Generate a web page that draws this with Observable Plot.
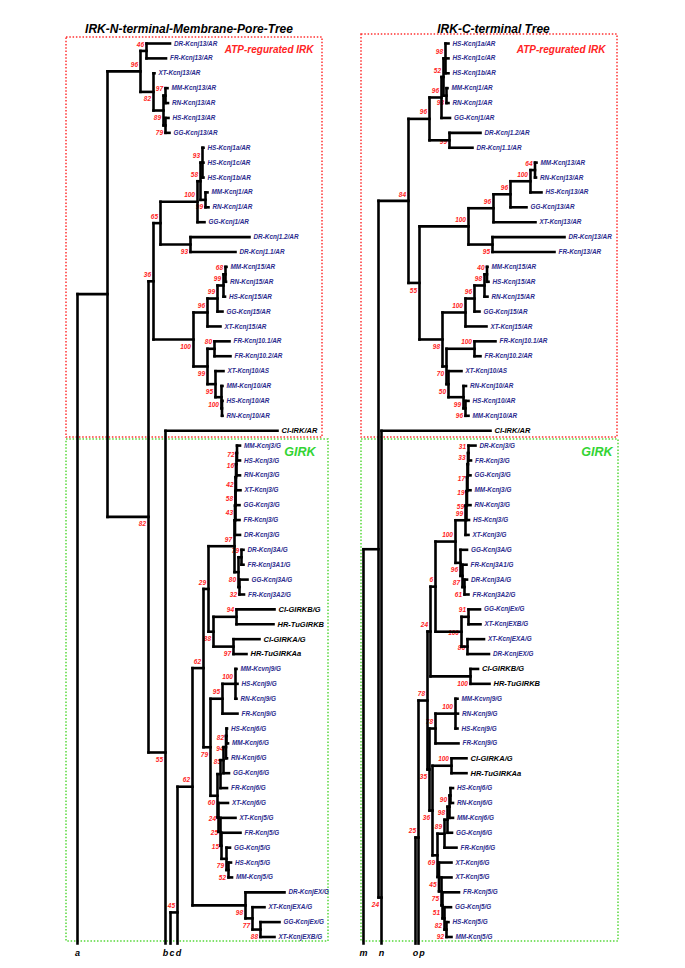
<!DOCTYPE html>
<html><head><meta charset="utf-8">
<script src="https://cdn.jsdelivr.net/npm/d3@7"></script>
<script src="https://cdn.jsdelivr.net/npm/@observablehq/plot@0.6"></script>
<style>
body{margin:0;background:#fff;}
#wrap{display:flex;width:685px;height:968px;}
#wrap svg{display:block;flex:none;}
</style></head><body><div id="wrap"></div>
<script>
// ---------- DATA ----------
// rows: [node id / leaf label, parent id, depth (branch distance from root), bootstrap, bootstrap side a=above b=below m=on branch]
const leftNodes = [
["R","",0],["N107","R",30],
["NK13","N107",63,"96","a"],["N46","NK13",69,"46","a"],
["DR-Kcnj13/AR","N46",92.5],["FR-Kcnj13/AR","N46",88.5],
["N82a","NK13",76,"82","b"],["XT-Kcnj13/AR","N82a",77],
["N89","N82a",86,"89","b"],["N97m","N89",88,"97","a"],
["MM-Kcnj13/AR","N97m",90],["RN-Kcnj13/AR","N97m",90.5],
["N79m","N89",88,"79","b"],["HS-Kcnj13/AR","N79m",91],["GG-Kcnj13/AR","N79m",92],
["N148","N107",71,"82","b"],["N36","N148",76,"36","a"],["N65","N36",83,"65","a"],
["N100k1","N65",120,"100","a"],["N58","N100k1",123,"58","a"],["N93h","N58",125,"93","a"],
["HS-Kcnj1a/AR","N93h",126],["HS-Kcnj1c/AR","N93h",126],["HS-Kcnj1b/AR","N93h",126],
["N99mr","N58",128,"99","b"],["MM-Kcnj1/AR","N99mr",130],["RN-Kcnj1/AR","N99mr",131],
["GG-Kcnj1/AR","N100k1",127],
["N93d","N65",113,"93","b"],["DR-Kcnj1.2/AR","N93d",172],["DR-Kcnj1.1/AR","N93d",158],
["N100b","N36",116,"100","b"],["N96","N100b",130,"96","a"],["N99a","N96",140,"99","a"],
["N99b","N99a",146,"99","a"],["N68","N99b",148,"68","a"],
["MM-Kcnj15/AR","N68",149],["RN-Kcnj15/AR","N68",148.5],["HS-Kcnj15/AR","N99b",147.5],
["GG-Kcnj15/AR","N99a",145],["XT-Kcnj15/AR","N96",143],
["N99c","N100b",130,"99","b"],["N80","N99c",137,"80","a"],
["FR-Kcnj10.1/AR","N80",152],["FR-Kcnj10.2/AR","N80",153],
["N95","N99c",138,"95","b"],["XT-Kcnj10/AS","N95",146],
["N100c","N95",144,"100","b"],["MM-Kcnj10/AR","N100c",145],["Nhr10","N100c",144.5],
["HS-Kcnj10/AR","Nhr10",145],["RN-Kcnj10/AR","Nhr10",145],
["Nb","N148",88,"55","b"],["CI-IRK/AR","Nb",200],
["Nc","",93],["Nd","Nc",100,"45","a"],["N62","Nd",115,"62","a"],
["N62b","N62",126,"62","a"],["N29","N62b",131,"29","a"],["N97k3","N29",157,"97","a"],
["Nk3a","N97k3",157.5],["Nk3b","Nk3a",158,"43","b"],["Nk3c","Nk3b",158,"58","b"],
["Nk3d","Nk3c",158.5,"42","b"],["Nk3e","Nk3d",159,"16","m"],["Nk3f","Nk3e",159.5,"72","m"],
["MM-Kcnj3/G","Nk3f",162.5],["HS-Kcnj3/G","Nk3f",162.5],["RN-Kcnj3/G","Nk3e",162.5],
["XT-Kcnj3/G","Nk3d",163],["GG-Kcnj3/G","Nk3c",162],["FR-Kcnj3/G","Nk3b",162],["DR-Kcnj3/G","Nk3a",162.5],
["N80k3A","N97k3",161,"80","b"],["N79k3A","N80k3A",164,"79","a"],
["DR-Kcnj3A/G","N79k3A",166],["FR-Kcnj3A1/G","N79k3A",166],
["N32","N80k3A",162,"32","b"],["GG-Kcnj3A/G","N32",170],["FR-Kcnj3A2/G","N32",166.5],
["N88","N29",136,"88","b"],["N94","N88",159,"94","a"],["CI-GIRKB/G","N94",197],["HR-TuGIRKB","N94",196],
["N97g","N88",156,"97","b"],["CI-GIRKA/G","N97g",182],["HR-TuGIRKAa","N97g",169],
["N79","N62b",133,"79","b"],["N95k9","N79",145,"95","a"],["N100k9","N95k9",158,"100","a"],
["MM-Kcvnj9/G","N100k9",159],["HS-Kcnj9/G","N100k9",160],["RN-Kcnj9/G","N100k9",159],["FR-Kcnj9/G","N95k9",160],
["N60","N79",140,"60","b"],["Nk6r","N60",143],["N85","Nk6r",146,"85","m"],
["N94k6","N85",148.5,"94","m"],["N82k6","N94k6",149,"82","m"],
["HS-Kcnj6/G","N82k6",149.5],["MM-Kcnj6/G","N82k6",150.5],["RN-Kcnj6/G","N94k6",149.5],
["GG-Kcnj6/G","N85",151.5],["FR-Kcnj6/G","Nk6r",149.5],
["N24","N60",141,"24","m"],["XT-Kcnj6/G","N24",150.5],["N25","N24",143,"25","m"],
["XT-Kcnj5/G","N25",158],["N15","N25",144,"15","m"],["FR-Kcnj5/G","N15",163],
["N79k5","N15",149,"79","b"],["GG-Kcnj5/G","N79k5",152.5],["N52","N79k5",151,"52","b"],
["HS-Kcnj5/G","N52",153.5],["MM-Kcnj5/G","N52",154.5],
["NEX","N62",168,"98","b"],["DR-KcnjEX/G","NEX",207],["N77","NEX",175,"77","b"],
["XT-KcnjEXA/G","N77",187],["N88e","N77",183,"88","b"],["GG-KcnjEx/G","N88e",202],["XT-KcnjEXB/G","N88e",197]
];
const leftMarkers = [["a","R"],["b","Nb"],["c","Nc"],["d","Nd"]];
const leftEditedY = [["Nb",47.61],["Nd",58.35]];   // hand-moved nodes (row units)

const rightNodes = [
["M","",0],["N378","M",15],
["N84","N378",45,"84","a"],["NK1","N84",66,"96","a"],["Ng","NK1",78,"96","a"],
["Nx","Ng",80,"52","a"],["Nh","Nx",82,"98","a"],
["HS-Kcnj1a/AR","Nh",85],["HS-Kcnj1c/AR","Nh",85],["HS-Kcnj1b/AR","Nh",85],
["Nmr","Nx",83,"93","b"],["MM-Kcnj1/AR","Nmr",84],["RN-Kcnj1/AR","Nmr",85],
["GG-Kcnj1/AR","Ng",86.5],
["NDR","NK1",86,"99","m"],["DR-Kcnj1.2/AR","NDR",117],["DR-Kcnj1.1/AR","NDR",109],
["N55","N84",56,"55","b"],["N100k13","N55",105,"100","a"],["N96a","N100k13",130,"96","a"],
["N96b","N96a",147,"96","a"],["N100m","N96b",167,"100","a"],["N64","N100m",171.5,"64","a"],
["MM-Kcnj13/AR","N64",173],["RN-Kcnj13/AR","N64",172.5],["HS-Kcnj13/AR","N100m",178],
["GG-Kcnj13/AR","N96b",163],["XT-Kcnj13/AR","N96a",172],
["N95d","N100k13",129,"95","b"],["DR-Kcnj13/AR","N95d",201],["FR-Kcnj13/AR","N95d",191],
["N98","N55",79,"98","b"],["N100k15","N98",102,"100","a"],["N96c","N100k15",111,"96","a"],
["N98b","N96c",121,"98","a"],["N40","N98b",123.5,"40","a"],
["MM-Kcnj15/AR","N40",124],["HS-Kcnj15/AR","N40",125],["RN-Kcnj15/AR","N98b",124],
["GG-Kcnj15/AR","N96c",116],["XT-Kcnj15/AR","N100k15",123],
["N70","N98",83,"70","b"],["N100k10","N70",111,"100","a"],
["FR-Kcnj10.1/AR","N100k10",132],["FR-Kcnj10.2/AR","N100k10",117],
["N50","N70",85,"50","b"],["XT-Kcnj10/AS","N50",98],["N99m10","N50",100,"99","b"],
["RN-Kcnj10/AR","N99m10",102.5],["N96m10","N99m10",102,"96","b"],
["HS-Kcnj10/AR","N96m10",105],["MM-Kcnj10/AR","N96m10",105],
["Nn","N378",18,"24","b"],["CI-IRK/AR","Nn",127],
["No","",52],["Np","No",55,"25","a"],["N78t","Np",64,"78","a"],
["Nr","N78t",67,"24","a"],["Nq","Nr",72,"6","a"],["N100_3","Nq",92,"100","a"],
["N99k3","N100_3",102,"99","a"],["N59","N99k3",103,"59","m"],["N19","N59",103.5,"19","m"],
["N17","N19",104,"17","m"],["N33","N17",104.5,"33","a"],["N31","N33",105,"31","a"],
["DR-Kcnj3/G","N31",112],["FR-Kcnj3/G","N31",107.5],["GG-Kcnj3/G","N33",107],
["MM-Kcnj3/G","N17",107],["RN-Kcnj3/G","N19",107],["HS-Kcnj3/G","N59",105.5],["XT-Kcnj3/G","N99k3",105],
["N96_3A","N100_3",97,"96","b"],["GG-Kcnj3A/G","N96_3A",103.5],["N87","N96_3A",99,"87","b"],
["FR-Kcnj3A1/G","N87",103],["N61","N87",101,"61","b"],["DR-Kcnj3A/G","N61",103.5],["FR-Kcnj3A2/G","N61",105],
["N100ex","Nq",98,"100","m"],["N91","N100ex",105,"91","a"],
["GG-KcnjEx/G","N91",116.5],["XT-KcnjEXB/G","N91",117],
["N86","N100ex",104,"86","m"],["XT-KcnjEXA/G","N86",120.5],["DR-KcnjEX/G","N86",125.5],
["N100ci","Nr",107,"100","b"],["CI-GIRKB/G","N100ci",114.5],["HR-TuGIRKB","N100ci",126],
["N35","N78t",66,"35","b"],["Nk9","N35",72,"78","a"],["N100k9","Nk9",92,"100","a"],
["MM-Kcvnj9/G","N100k9",94],["RN-Kcnj9/G","N100k9",94.5],["HS-Kcnj9/G","N100k9",94],["FR-Kcnj9/G","Nk9",95],
["N36","N35",69,"36","b"],["N100a","N36",88,"100","a"],
["CI-GIRKA/G","N100a",103],["HR-TuGIRKAa","N100a",103],
["N69","N36",74,"69","b"],["N89","N69",81,"89","a"],["N98k6","N89",84,"98","a"],
["N90","N98k6",86,"90","a"],["Nhr6","N90",87],
["HS-Kcnj6/G","Nhr6",89.5],["RN-Kcnj6/G","Nhr6",89.5],["MM-Kcnj6/G","N90",89.5],
["GG-Kcnj6/G","N98k6",88.5],["FR-Kcnj6/G","N89",93],
["N45","N69",75.5,"45","b"],["XT-Kcnj6/G","N45",88],["N75","N45",78,"75","b"],
["XT-Kcnj5/G","N75",88],["N51","N75",79,"51","b"],["FR-Kcnj5/G","N51",95.5],
["N82k5","N51",81,"82","b"],["GG-Kcnj5/G","N82k5",87.5],["N92","N82k5",83,"92","b"],
["HS-Kcnj5/G","N92",85],["MM-Kcnj5/G","N92",88]
];
const rightMarkers = [["m","M"],["n","Nn"],["o","No"],["p","Np"]];
const rightEditedY = [["Nn",57.35],["Np",53.32]];

const titles = ["IRK-N-terminal-Membrane-Pore-Tree","IRK-C-terminal Tree"];
const groupNames = ["ATP-regurated IRK","GIRK"];

// ---------- LAYOUT ----------
const BOTTOM = 60.44, LETTER = 61.1, LETTER_GAP = 6.5;
function build(nodes, markers, edited) {
  const map = new Map();
  nodes.forEach(([id, parent, depth, bs, side]) => map.set(id, {id, parent, depth, bs, side, kids: [], marks: []}));
  map.forEach(n => { if (n.parent) map.get(n.parent).kids.push(n); });
  markers.forEach(([label, id]) => map.get(id).marks.push(label));
  const fixed = new Map(edited);
  let next = 0;
  const visit = n => {
    if (!n.kids.length) { n.y = next++; n.leaf = true; return; }
    n.kids.forEach(visit);
    const ys = n.kids.map(k => k.y).concat(n.marks.map(() => BOTTOM));
    n.lo = d3.min(ys); n.hi = d3.max(ys);
    n.y = fixed.has(n.id) ? fixed.get(n.id) : d3.mean(ys);
  };
  const all = [...map.values()];
  all.filter(n => !n.parent).forEach(visit);
  const segs = [];
  all.forEach(n => {
    if (n.parent) segs.push({x1: map.get(n.parent).depth, x2: n.depth, y1: n.y, y2: n.y});
    if (!n.leaf) segs.push({x1: n.depth, x2: n.depth, y1: n.lo, y2: n.hi});
  });
  // bottom letters: keep neighbours from touching
  const letters = markers.map(([label, id]) => ({label, x: map.get(id).depth})).sort((a, b) => a.x - b.x);
  for (let i = 1; i < letters.length; i++)
    if (letters[i].x - letters[i - 1].x < LETTER_GAP) letters[i].x = letters[i - 1].x + LETTER_GAP;
  return {segs, leaves: all.filter(n => n.leaf), boots: all.filter(n => n.bs), letters};
}

const FONT = "Liberation Sans, Arial, Helvetica, sans-serif";
const NAVY = "#2c2c8e", RED = "#ff2424", GREEN = "#33d433";
const isBlack = s => /^(CI|HR)-/.test(s);

function drawTree(t, o) {
  const txt = {fontFamily: FONT, fontWeight: "bold", fontStyle: "italic"};
  return Plot.plot({
    width: o.width, height: 968, axis: null,
    x: {domain: [0, 240], range: o.xRange},
    y: {domain: [0, 60], range: [43, 936.5]},
    style: {background: "transparent", overflow: "visible"},
    marks: [
      Plot.rect([0], {x1: o.box[0], x2: o.box[1], y1: -0.48 + o.topShift, y2: 26.46, fill: "none", stroke: "#ff3030", strokeWidth: 1.5, strokeDasharray: "1.5 1.8"}),
      Plot.rect([0], {x1: o.box[0], x2: o.box[2], y1: 26.6, y2: 60.3, fill: "none", stroke: "#55d83a", strokeWidth: 1.5, strokeDasharray: "1.5 1.8"}),
      Plot.text([titles[o.i]], {x: o.titleX, y: -0.98, text: d => d, fontSize: 12, fill: "black", ...txt}),
      Plot.text([groupNames[0]], {x: o.atpX, y: 0.42, text: d => d, textAnchor: "end", fontSize: 10, fill: RED, ...txt}),
      Plot.text([groupNames[1]], {x: o.girkX, y: 27.46, text: d => d, textAnchor: "end", fontSize: 12.5, fill: GREEN, ...txt}),
      Plot.text(t.leaves.filter(d => !isBlack(d.id)), {x: "depth", y: "y", text: "id", textAnchor: "start", dx: 4, fontSize: 6.4, fill: NAVY, ...txt}),
      Plot.text(t.leaves.filter(d => isBlack(d.id)), {x: "depth", y: "y", text: "id", textAnchor: "start", dx: 4, fontSize: 7.5, fill: "black", ...txt}),
      Plot.text(t.boots.filter(d => d.side === "a"), {x: "depth", y: "y", text: "bs", textAnchor: "end", dx: -2.5, dy: -6.5, fontSize: 6.5, fill: RED, ...txt}),
      Plot.text(t.boots.filter(d => d.side === "b"), {x: "depth", y: "y", text: "bs", textAnchor: "end", dx: -2.5, dy: 7.5, fontSize: 6.5, fill: RED, ...txt}),
      Plot.text(t.boots.filter(d => d.side === "m"), {x: "depth", y: "y", text: "bs", textAnchor: "end", dx: -2.5, dy: 1.5, fontSize: 6.5, fill: RED, ...txt}),
      Plot.link(t.segs, {x1: "x1", y1: "y1", x2: "x2", y2: "y2", stroke: "black", strokeWidth: 2.6, strokeLinecap: "square"}),
      Plot.text(t.letters, {x: "x", y: LETTER, text: "label", fontSize: 9, fill: "black", ...txt})
    ]
  });
}

const wrap = document.getElementById("wrap");
wrap.appendChild(drawTree(build(leftNodes, leftMarkers, leftEditedY),
  {i: 0, width: 343, xRange: [77, 317], box: [-11, 245, 251], topShift: 0.08, titleX: 111.5, atpX: 236, girkX: 238}));
wrap.appendChild(drawTree(build(rightNodes, rightMarkers, rightEditedY),
  {i: 1, width: 342, xRange: [20, 260], box: [-2, 254, 255], topShift: -0.12, titleX: 130, atpX: 242, girkX: 249}));
</script></body></html>
